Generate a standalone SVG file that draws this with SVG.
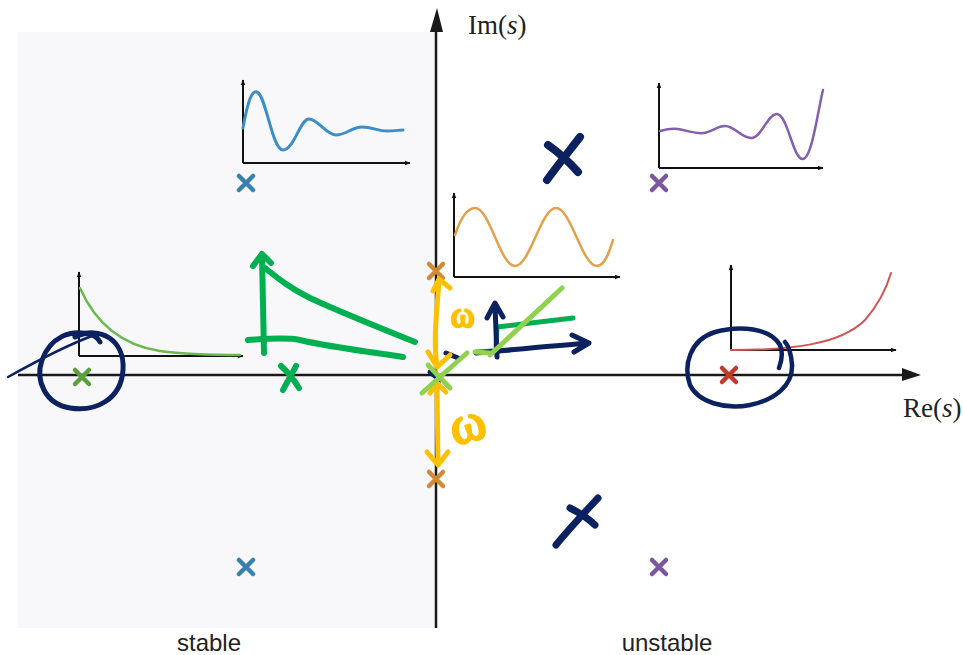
<svg xmlns="http://www.w3.org/2000/svg" width="963" height="655" viewBox="0 0 963 655">
<defs>
<marker id="ahs" viewBox="0 0 10 10" refX="9" refY="5" markerWidth="6" markerHeight="6" orient="auto" markerUnits="userSpaceOnUse">
<path d="M0,1 L10,5 L0,9 z" fill="#111"/>
</marker>
</defs>
<style>
.ax{stroke:#1a1a1a;stroke-width:2.5;fill:none}
.iax{stroke:#111;stroke-width:2;fill:none;marker-end:url(#ahs)}
.crv{fill:none;stroke-linecap:round}
.pole{stroke-width:4.5;stroke-linecap:round;fill:none}
.ink{fill:none;stroke-linecap:round;stroke-linejoin:round}
.navy{stroke:#0c2160}
.grn{stroke:#00b050}
.lg{stroke:#92d050}
.yel{stroke:#ffc000}
.lbl{font-family:"Liberation Sans",Arial,sans-serif;font-size:24px;fill:#222}
.math{font-family:"Liberation Serif","Times New Roman",serif;font-size:27px;fill:#222}
.om{font-family:"Liberation Serif","Times New Roman",serif;fill:#ffc000;stroke:#ffc000;stroke-width:2.5;stroke-linejoin:round}
</style>
<rect id="stable-region" x="18" y="32" width="418" height="596" fill="#f8f8fa"/>

<g id="axes">
<line class="ax" x1="18" y1="375" x2="905" y2="375"/>
<path d="M902,368 L921,375 L902,381 z" fill="#1a1a1a"/>
<line class="ax" x1="436" y1="628" x2="436" y2="28"/>
<path d="M430,32 L437,8 L443,32 z" fill="#1a1a1a"/>
<text class="math" x="468" y="34">Im(<tspan font-style="italic">s</tspan>)</text>
<text class="math" x="903" y="417">Re(<tspan font-style="italic">s</tspan>)</text>
<text class="lbl" x="209" y="651" text-anchor="middle">stable</text>
<text class="lbl" x="667" y="651" text-anchor="middle">unstable</text>
</g>

<g id="inset-blue">
<line class="iax" x1="243" y1="163" x2="243" y2="80"/>
<line class="iax" x1="243" y1="163" x2="410" y2="163"/>
<path class="crv" stroke="#3d8ec6" stroke-width="3" d="M243,128 C248,100 252,90 257,92 C266,95 272,150 283,150 C294,150 300,119 309,119 C318,119 326,135 336,135 C346,135 352,127 362,127 C372,127 378,131 387,131 C395,131 399,130 403,130"/>
</g>
<g id="inset-purple">
<line class="iax" x1="659" y1="168" x2="659" y2="83"/>
<line class="iax" x1="659" y1="168" x2="823" y2="168"/>
<path class="crv" stroke="#8360ad" stroke-width="2.5" d="M660,131 C667,129 672,128 678,129 C690,131 695,134 703,133 C712,132 717,126 725,126 C735,126 742,139 752,138 C762,137 768,113 777,114 C788,115 793,160 803,159 C812,158 818,110 823,90"/>
</g>
<g id="inset-orange">
<line class="iax" x1="454" y1="277" x2="454" y2="193"/>
<line class="iax" x1="454" y1="277" x2="620" y2="277"/>
<path class="crv" stroke="#e3a04a" stroke-width="2.5" d="M455,235 C460,220 467,208 475,208 C490,208 500,266 515,266 C530,266 541,208 556,208 C571,208 582,266 597,266 C605,266 610,250 613,240"/>
</g>
<g id="inset-green">
<line class="iax" x1="79" y1="356" x2="79" y2="272"/>
<line class="iax" x1="79" y1="356" x2="243" y2="356"/>
<path class="crv" stroke="#6cb84e" stroke-width="2.5" d="M80,288 C95,322 120,345 160,351 C190,355 215,355 240,355"/>
</g>
<g id="inset-red">
<line class="iax" x1="731" y1="350" x2="731" y2="265"/>
<line class="iax" x1="731" y1="350" x2="896" y2="350"/>
<path class="crv" stroke="#d05555" stroke-width="2" d="M731,350 C790,350 840,345 865,320 C878,305 886,290 891,273"/>
</g>

<g id="poles">
<g id="pole-blue-top" class="pole" stroke="#3a7fb0"><path d="M239,176 L253,190 M253,176 L239,190"/></g>
<g id="pole-blue-bottom" class="pole" stroke="#3a7fb0"><path d="M239,560 L253,574 M253,560 L239,574"/></g>
<g id="pole-purple-top" class="pole" stroke="#7a55a0"><path d="M652,176 L666,190 M666,176 L652,190"/></g>
<g id="pole-purple-bottom" class="pole" stroke="#7a55a0"><path d="M652,560 L666,574 M666,560 L652,574"/></g>
<g id="pole-orange-top" class="pole" stroke="#d08a35"><path d="M429,264 L443,278 M443,264 L429,278"/></g>
<g id="pole-orange-bottom" class="pole" stroke="#d08a35"><path d="M429,472 L443,486 M443,472 L429,486"/></g>
<g id="pole-green" class="pole" stroke="#5aa03a"><path d="M75,370 L89,384 M89,370 L75,384"/></g>
<g id="pole-red" class="pole" stroke="#c0392b"><path d="M722,368 L736,382 M736,368 L722,382"/></g>
</g>

<g id="annotations">
<path class="ink navy" stroke-width="2.5" d="M8,377 C35,362 65,346 92,336"/>
<path class="ink navy" stroke-width="5" d="M75,337 C100,325 125,340 123,370 C121,400 95,412 70,408 C45,404 35,380 42,360 C50,338 70,328 92,335 C97,337 99,340 100,342"/>
<path class="ink navy" stroke-width="4.5" d="M779,368 C782,360 783,352 780,345 C770,328 740,325 715,332 C690,340 683,365 690,385 C698,402 725,410 750,405 C775,400 793,385 792,365 C791,352 788,345 785,342"/>
<path class="ink navy" stroke-width="8" d="M580,137 C570,150 557,166 547,180 M548,145 C558,152 570,163 578,172"/>
<path class="ink navy" stroke-width="7" d="M598,498 C585,512 568,530 556,545 M570,508 C578,512 588,518 595,525"/>

<path class="ink grn" stroke-width="6" d="M264,353 L262,256 M253,266 L262,254 L271,263"/>
<path class="ink grn" stroke-width="6" d="M265,268 C280,280 290,288 310,298 C340,312 380,328 415,342"/>
<path class="ink grn" stroke-width="6" d="M248,340 C265,339 285,337 300,340 C330,347 370,352 403,357"/>
<path class="ink grn" stroke-width="6" d="M281,366 C288,372 294,380 299,388 M296,366 C291,376 287,382 283,390"/>
<path class="ink grn" stroke-width="5" d="M496,347 L497,327 L573,318 M476,352 L510,350"/>

<path class="ink navy" stroke-width="5" d="M497,357 L495,305 M487,318 L495,303 L503,317"/>
<path class="ink navy" stroke-width="5" d="M476,353 C510,350 550,346 589,343 M572,335 L589,343 L574,352"/>
<path class="ink navy" stroke-width="5" d="M446,353 L458,358 M430,372 L440,380"/>

<path class="ink yel" stroke-width="5" d="M439,281 C437,310 433,340 437,367 M433,291 L439,279 L450,288 M428,352 L437,367 L450,355"/>
<path class="ink yel" stroke-width="5" d="M437,385 L438,463 M430,393 L437,383 L446,392 M427,452 L438,465 L448,452"/>
<text class="om" x="451" y="327" font-size="36">ω</text>
<text class="om" x="450" y="441" font-size="54" transform="rotate(-15 469 426)">ω</text>

<path class="ink lg" stroke-width="5" d="M562,288 L490,355 M475,352 L490,353"/>
<path class="ink lg" stroke-width="5" d="M467,353 L422,393 M428,365 L450,388"/>
</g>
</svg>
